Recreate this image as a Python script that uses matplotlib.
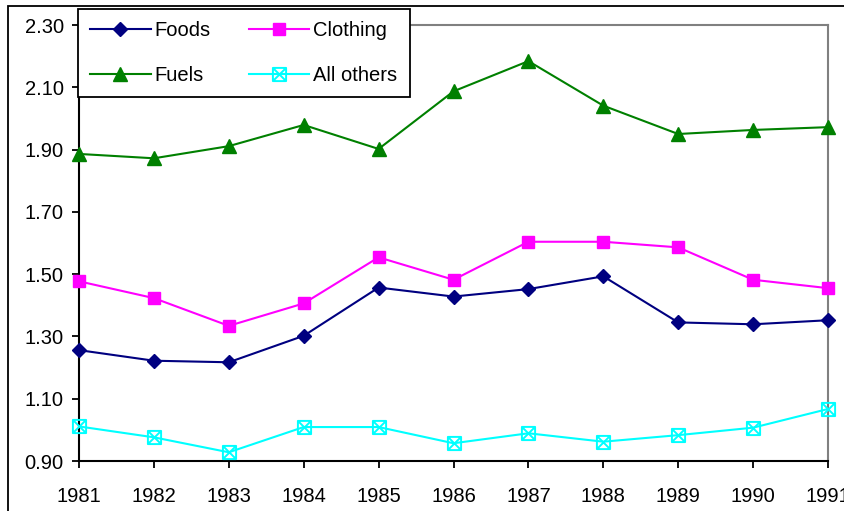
import matplotlib
matplotlib.use("Agg")
import matplotlib.pyplot as plt
import matplotlib.patches as mpatches
from matplotlib.path import Path

# data
years = [1981, 1982, 1983, 1984, 1985, 1986, 1987, 1988, 1989, 1990, 1991]
foods = [1.256, 1.222, 1.217, 1.302, 1.457, 1.428, 1.452, 1.493, 1.345, 1.339, 1.352]
clothing = [1.477, 1.423, 1.334, 1.406, 1.554, 1.482, 1.604, 1.604, 1.586, 1.482, 1.455]
fuels = [1.886, 1.872, 1.911, 1.979, 1.902, 2.087, 2.184, 2.041, 1.950, 1.963, 1.972]
others = [1.011, 0.976, 0.928, 1.009, 1.009, 0.957, 0.989, 0.962, 0.983, 1.007, 1.067]
yticks = [0.90, 1.10, 1.30, 1.50, 1.70, 1.90, 2.10, 2.30]

plt.rcParams['font.family'] = ['Liberation Sans', 'DejaVu Sans']
plt.rcParams['font.size'] = 14.5

W, H = 844, 511
fig = plt.figure(figsize=(W/100.0, H/100.0), dpi=100)

# outer chart border (cut off at right and bottom like the original)
fig.patches.append(mpatches.Rectangle((8.0/W, -0.5), 2.0, 1 - 6.0/H + 0.5,
                                      transform=fig.transFigure, fill=False,
                                      edgecolor='black', linewidth=1.3))

ax = fig.add_axes([79.0/W, 1 - 461.0/H, (828.0 - 79.0)/W, (461.0 - 25.0)/H])

# square with a cross, the Excel marker
box_x = Path([(-1, -1), (1, -1), (1, 1), (-1, 1), (-1, -1),
              (-1, -1), (1, 1), (-1, 1), (1, -1)],
             [Path.MOVETO, Path.LINETO, Path.LINETO, Path.LINETO, Path.CLOSEPOLY,
              Path.MOVETO, Path.LINETO, Path.MOVETO, Path.LINETO])

l1, = ax.plot(years, foods, color='#000080', lw=1.5, marker='D', ms=7.5, label='Foods', clip_on=False, zorder=4)
l2, = ax.plot(years, clothing, color='#FF00FF', lw=1.5, marker='s', ms=8, label='Clothing', clip_on=False, zorder=4)
l3, = ax.plot(years, fuels, color='#008000', lw=1.5, marker='^', ms=10, label='Fuels', clip_on=False, zorder=4)
l4, = ax.plot(years, others, color='#00FFFF', lw=1.5, marker=box_x, ms=9.5, mfc='none', mew=1.4,
              label='All others', clip_on=False, zorder=4)

ax.set_xlim(years[0], years[-1])
ax.set_ylim(yticks[0], yticks[-1])
ax.set_xticks(years)
ax.set_yticks(yticks)
ax.set_yticklabels(['%.2f' % v for v in yticks])

ax.tick_params(axis='both', direction='out', length=5, width=1.3, colors='black', labelsize=14.5)
ax.tick_params(axis='y', pad=6)
ax.tick_params(axis='x', pad=14)

for s in ['left', 'bottom']:
    ax.spines[s].set_color('black')
    ax.spines[s].set_linewidth(1.5)
for s in ['top', 'right']:
    ax.spines[s].set_color('#808080')
    ax.spines[s].set_linewidth(1.5)

# legend fills column by column, so order gives rows Foods/Clothing, Fuels/All others
leg = fig.legend(handles=[l1, l3, l2, l4], loc='upper left', bbox_to_anchor=(78.0/W, 1 - 9.0/H), ncol=2,
                 frameon=True, fancybox=False, borderaxespad=0, borderpad=0.6,
                 handlelength=3.0, handletextpad=0.2, columnspacing=1.9,
                 labelspacing=1.3, fontsize=14.5)
leg.get_frame().set_edgecolor('black')
leg.get_frame().set_linewidth(1.3)
leg.get_frame().set_alpha(1)

fig.savefig('out.png', dpi=100)
